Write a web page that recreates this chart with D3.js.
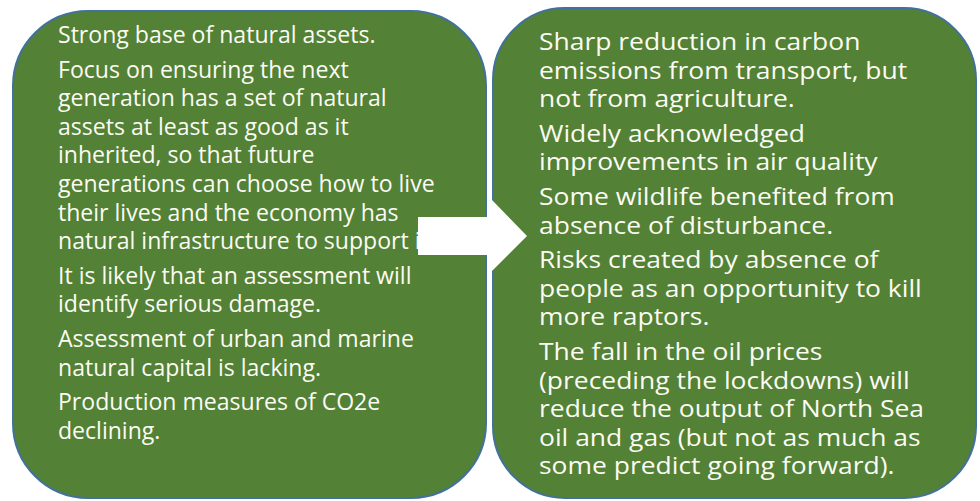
<!DOCTYPE html>
<html>
<head>
<meta charset="utf-8">
<script src="https://cdn.jsdelivr.net/npm/d3@7"></script>
<style>
  html, body { margin: 0; padding: 0; background: #fff; }
  svg { display: block; }
</style>
</head>
<body>
<svg id="chart" width="980" height="501"></svg>
<script>
// text of the two panels, one array per paragraph (already wrapped as in the picture)
const leftParagraphs = [
  ["Strong base of natural assets."],
  ["Focus on ensuring the next",
   "generation has a set of natural",
   "assets at least as good as it",
   "inherited, so that future",
   "generations can choose how to live",
   "their lives and the economy has",
   "natural infrastructure to support it"],
  ["It is likely that an assessment will",
   "identify serious damage."],
  ["Assessment of urban and marine",
   "natural capital is lacking."],
  ["Production measures of CO2e",
   "declining."]
];

const rightParagraphs = [
  ["Sharp reduction in carbon",
   "emissions from transport, but",
   "not from agriculture."],
  ["Widely acknowledged",
   "improvements in air quality"],
  ["Some wildlife benefited from",
   "absence of disturbance."],
  ["Risks created by absence of",
   "people as an opportunity to kill",
   "more raptors."],
  ["The fall in the oil prices",
   "(preceding the lockdowns) will",
   "reduce the output of North Sea",
   "oil and gas (but not as much as",
   "some predict going forward)."]
];

const svg = d3.select("#chart");
const fontFamily = "'Open Sans', 'Noto Sans', sans-serif";
const fontSize = 23;

// panels: position + where the text starts; refLine/refWidth = a line whose width we match
const panels = [
  { x: 13, y: 11, w: 473, h: 487, r: 75, textX: 58, firstLine: 35, paras: leftParagraphs,
    refLine: "generations can choose how to live", refWidth: 377 },
  { x: 493, y: 8, w: 483, h: 490, r: 72, textX: 539, firstLine: 42, paras: rightParagraphs,
    refLine: "people as an opportunity to kill", refWidth: 383 }
];

function measure(str, size) {
  const t = svg.append("text")
    .attr("font-family", fontFamily)
    .attr("font-size", size)
    .text(str);
  const w = t.node().getComputedTextLength();
  t.remove();
  return w;
}

const lineStep = 28.6;
const paraGap = 6;

svg.selectAll(".panel")
  .data(panels)
  .enter().append("rect")
  .attr("class", "panel")
  .attr("x", d => d.x)
  .attr("y", d => d.y)
  .attr("width", d => d.w)
  .attr("height", d => d.h)
  .attr("rx", d => d.r)
  .attr("ry", d => d.r)
  .attr("fill", "#538135")
  .attr("stroke", "#41719c")
  .attr("stroke-width", 2);

panels.forEach(p => {
  // flatten paragraphs into lines with a running y
  const lines = [];
  let y = p.firstLine;
  p.paras.forEach((para, i) => {
    if (i > 0) y += paraGap;
    para.forEach(line => {
      lines.push({ text: line, y: y });
      y += lineStep;
    });
  });

  // squeeze / stretch horizontally so line widths match the picture
  const sx = p.refWidth / measure(p.refLine, fontSize);

  svg.append("g")
    .attr("transform", `translate(${p.textX},0) scale(${sx},1)`)
    .selectAll("text")
    .data(lines)
    .enter().append("text")
    .attr("x", 0)
    .attr("y", d => d.y)
    .attr("dy", "0.35em")
    .attr("font-family", fontFamily)
    .attr("font-size", fontSize)
    .attr("fill", "#fbfbf4")
    .text(d => d.text);
});

// white block arrow between the panels (drawn on top, hides the end of "it")
const arrow = d3.path();
arrow.moveTo(418, 217);
arrow.lineTo(492, 217);
arrow.lineTo(492, 200);
arrow.lineTo(527, 236);
arrow.lineTo(492, 271);
arrow.lineTo(492, 255);
arrow.lineTo(418, 255);
arrow.closePath();

svg.append("path")
  .attr("d", arrow.toString())
  .attr("fill", "#ffffff");
</script>
</body>
</html>
